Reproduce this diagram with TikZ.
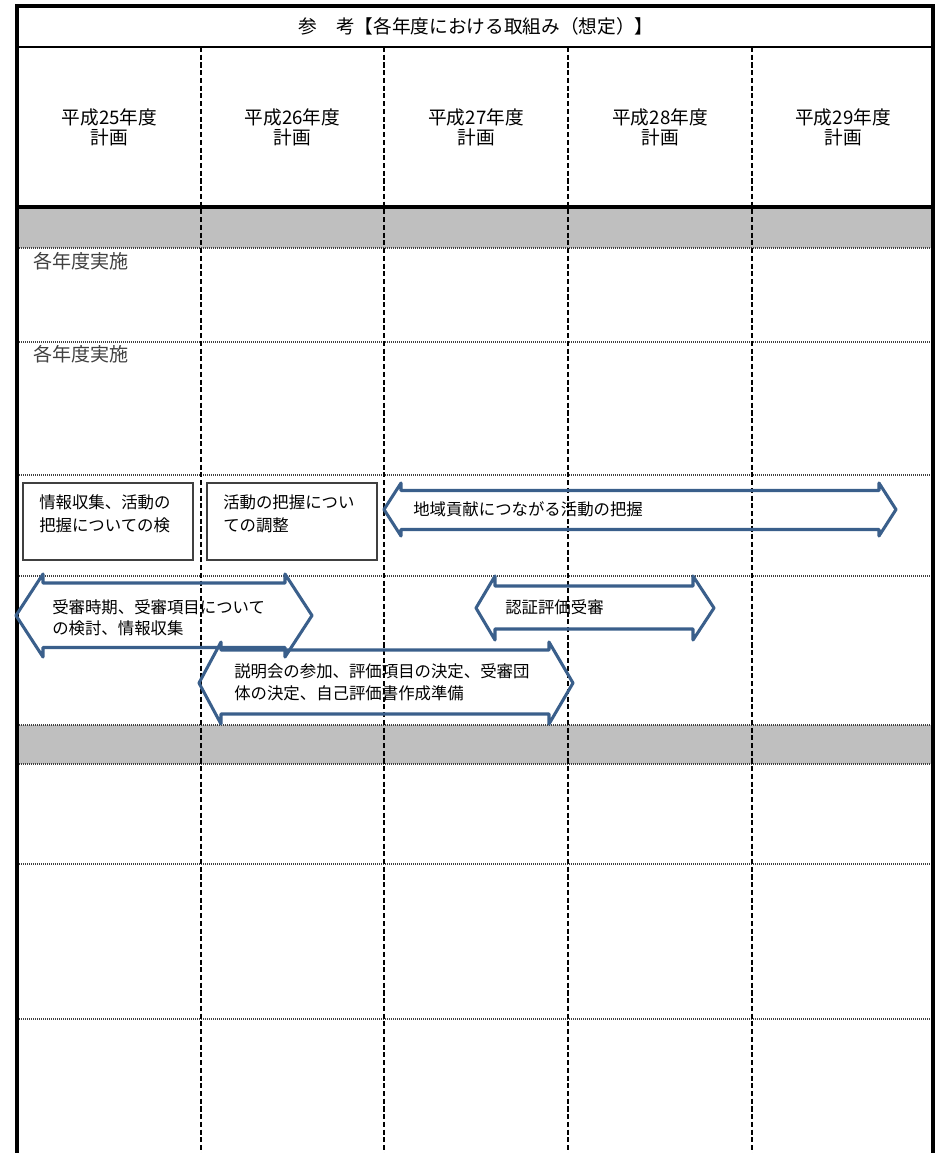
\documentclass[tikz,border=0pt]{standalone}
\usepackage{fontspec}
\setmainfont{Noto Sans CJK JP}
\definecolor{arrowblue}{HTML}{3A5F8B}
\definecolor{bandgray}{HTML}{BFBFBF}
\definecolor{boxgray}{HTML}{404040}
\definecolor{textgray}{HTML}{404040}
\tikzset{
  frameline/.style={draw=black, line width=3pt},
  thinframe/.style={draw=black, line width=1.5pt},
  colsep/.style={draw=black, line width=1.3pt, dash pattern=on 3.8pt off 2pt},
  rowsep/.style={draw=black!75, line width=0.8pt, dash pattern=on 0.75pt off 0.75pt},
  band/.style={fill=bandgray},
  dblarrow/.style={draw=arrowblue, line width=2.3pt, line join=round},
  titletext/.style={font=\fontsize{14}{16}\selectfont, inner sep=0pt},
  headtext/.style={font=\fontsize{14}{14.5}\selectfont, align=center, inner sep=0pt},
  yeartext/.style={font=\fontsize{14.3}{16}\selectfont, text=textgray, inner sep=0pt, anchor=west},
  itemtext/.style={font=\fontsize{12.3}{17}\selectfont, align=left, inner sep=0pt, anchor=west},
  itembox/.style={draw=boxgray, line width=1pt},
}
% #1 name, #2 left tip x, #3 left head x, #4 right head x, #5 right tip x,
% #6 head top y, #7 shaft top y, #8 shaft bottom y, #9 head bottom y
\newcommand\dblarrowpath[9]{%
  \draw[dblarrow] ({#2},{(#6+#9)/2}) -- (#3,#6) -- (#3,#7) -- (#4,#7) -- (#4,#6)
    -- ({#5},{(#6+#9)/2}) -- (#4,#9) -- (#4,#8) -- (#3,#8) -- (#3,#9) -- cycle;
  \coordinate (#1) at ({(#2+#5)/2},{(#6+#9)/2});
}
\begin{document}
\begin{tikzpicture}[x=0.75pt,y=-0.75pt]
\useasboundingbox (0,0) rectangle (941,1153);
% grey bands
\fill[band] (17,209) rectangle (933,248);
\fill[band] (17,725) rectangle (933,764);
% horizontal dotted separators
\foreach \yy in {248,342,475,576,725,764,864,1019}
  \draw[rowsep] (19,\yy) -- (931,\yy);
% vertical dashed column separators
\foreach \xx in {201,384,568,752}
  \draw[colsep] (\xx,47) -- (\xx,1153);
% frame
\draw[frameline] (17,4) -- (17,1153);
\draw[frameline] (933,4) -- (933,1153);
\draw[frameline] (15,5.5) -- (935,5.5);
\draw[thinframe] (17,46.5) -- (933,46.5);
\draw[frameline] (17,207) -- (933,207);
% title
\node[titletext] (title) at (476,26) {参　考【各年度における取組み（想定）】};
% headers
\node[headtext] (h25) at (109.5,127.5) {平成25年度\\計画};
\node[headtext] (h26) at (292.5,127.5) {平成26年度\\計画};
\node[headtext] (h27) at (476,127.5) {平成27年度\\計画};
\node[headtext] (h28) at (660,127.5) {平成28年度\\計画};
\node[headtext] (h29) at (843,127.5) {平成29年度\\計画};
% row labels
\node[yeartext] (y1) at (33,261) {各年度実施};
\node[yeartext] (y2) at (33,354) {各年度実施};
% boxes
\draw[itembox] (23,483) rectangle (193,560);
\draw[itembox] (207,483) rectangle (377,560);
\node[itemtext] (b1) at (39,513.5) {情報収集、活動の\\把握についての検};
\node[itemtext] (b2) at (223,513.5) {活動の把握につい\\ての調整};
% double arrows
\dblarrowpath{a1}{384}{401}{879}{896}{483}{490.5}{529.5}{536}
\dblarrowpath{a2}{16}{43}{285}{312}{574}{583}{647.5}{657}
\dblarrowpath{a4}{476}{495}{693}{714}{576}{586}{629}{640}
\dblarrowpath{a3}{199}{221}{549}{573}{642}{650}{714}{724}
\node[itemtext] (t1) at (413,509) {地域貢献につながる活動の把握};
\node[itemtext, font=\fontsize{12.3}{16}\selectfont] (t2) at (52,617.5) {受審時期、受審項目について\\の検討、情報収集};
\node[itemtext, font=\fontsize{12.3}{16.5}\selectfont] (t3) at (234,682) {説明会の参加、評価項目の決定、受審団\\体の決定、自己評価書作成準備};
\node[itemtext] (t4) at (505,607) {認証評価受審};
\end{tikzpicture}
\end{document}
